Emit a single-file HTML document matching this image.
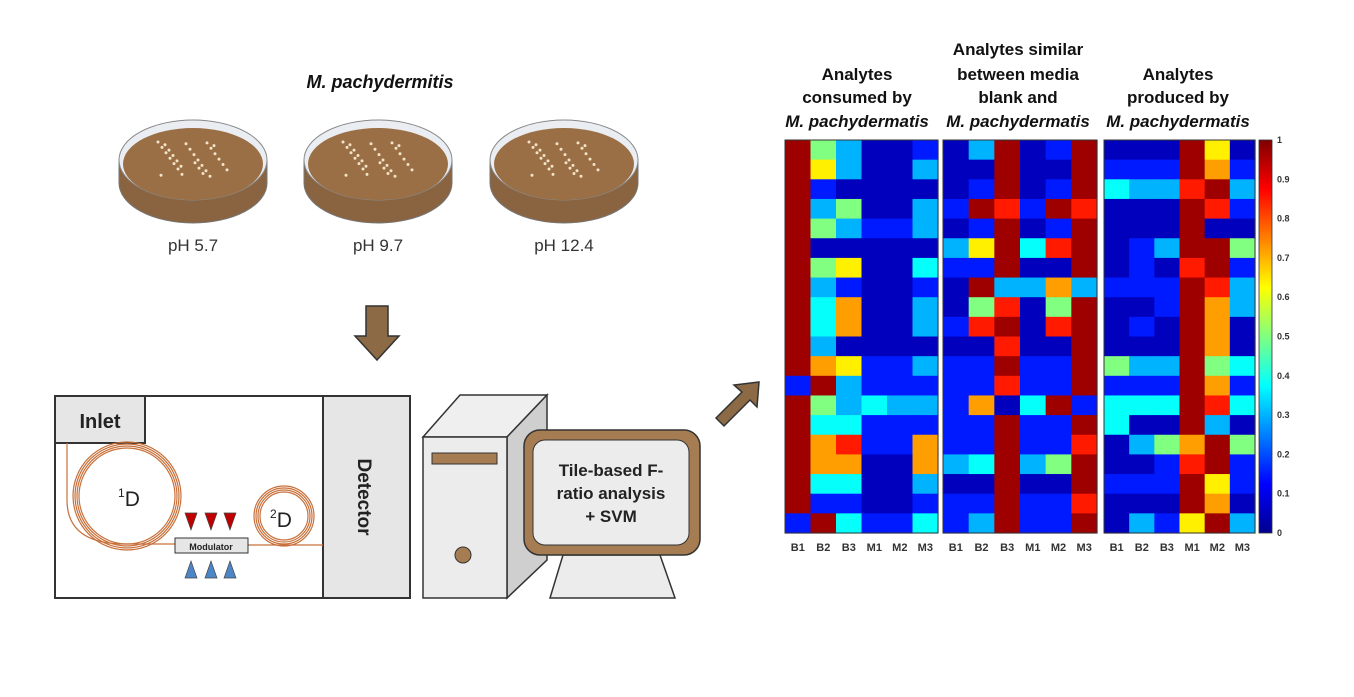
<!DOCTYPE html>
<html><head><meta charset="utf-8"><style>
html,body{margin:0;padding:0;background:#fff;width:1354px;height:697px;overflow:hidden}
svg{display:block;font-family:"Liberation Sans",sans-serif}
</style></head><body>
<svg id="s" width="1354" height="697" viewBox="0 0 1354 697" xmlns="http://www.w3.org/2000/svg">
<defs>
<linearGradient id="jet" x1="0" y1="1" x2="0" y2="0">
<stop offset="0" stop-color="#00008f"/><stop offset="0.125" stop-color="#0000ff"/>
<stop offset="0.375" stop-color="#00ffff"/><stop offset="0.625" stop-color="#ffff00"/>
<stop offset="0.875" stop-color="#ff0000"/><stop offset="1" stop-color="#800000"/>
</linearGradient>
</defs>
<text x="380" y="88" font-size="18" font-weight="bold" font-style="italic" text-anchor="middle" fill="#111">M. pachydermitis</text>
<g id="dishes"></g>
<text x="193" y="251" font-size="17" text-anchor="middle" fill="#333">pH 5.7</text>
<text x="378" y="251" font-size="17" text-anchor="middle" fill="#333">pH 9.7</text>
<text x="564" y="251" font-size="17" text-anchor="middle" fill="#333">pH 12.4</text>
<polygon points="366,306 388,306 388,336 399,336 377,360 355,336 366,336" fill="#8b6a45" stroke="#333" stroke-width="1.5"/>
<polygon points="716,418 742,392 734,385 759,382 757,407 750,400 724,426" fill="#8b6a45" stroke="#333" stroke-width="1.5"/>
<rect x="55" y="396" width="355" height="202" fill="#fff" stroke="#333" stroke-width="2"/>
<rect x="323" y="396" width="87" height="202" fill="#e6e6e6" stroke="#333" stroke-width="2"/>
<text transform="translate(358,497) rotate(90)" font-size="19" font-weight="bold" text-anchor="middle" fill="#222">Detector</text>
<rect x="55" y="396" width="90" height="47" fill="#e6e6e6" stroke="#333" stroke-width="2"/>
<text x="100" y="428" font-size="20" font-weight="bold" text-anchor="middle" fill="#222">Inlet</text>
<g fill="none" stroke="#c8703a" stroke-width="1.2">
<path d="M67,443 L67,500 Q67,544 125,544 L175,544"/>
<circle cx="127" cy="496" r="48"/><circle cx="127" cy="496" r="50"/><circle cx="127" cy="496" r="52"/><circle cx="127" cy="496" r="54"/>
<circle cx="284" cy="516" r="24"/><circle cx="284" cy="516" r="26"/><circle cx="284" cy="516" r="28"/><circle cx="284" cy="516" r="30"/>
<path d="M248,545 L323,545"/>
</g>
<text x="118" y="506" font-size="21" fill="#222"><tspan font-size="12" dy="-9">1</tspan><tspan dy="9">D</tspan></text>
<text x="270" y="527" font-size="21" fill="#222"><tspan font-size="12" dy="-9">2</tspan><tspan dy="9">D</tspan></text>
<rect x="175" y="538" width="73" height="15" fill="#e6e6e6" stroke="#333" stroke-width="1"/>
<text x="211" y="550" font-size="9" font-weight="bold" text-anchor="middle" fill="#222">Modulator</text>
<g fill="#c00000" stroke="#444" stroke-width="0.7">
<polygon points="185,513 197,513 191,530"/><polygon points="205,513 217,513 211,530"/><polygon points="224,513 236,513 230,530"/></g>
<g fill="#4d86c6" stroke="#444" stroke-width="0.7">
<polygon points="185,578 197,578 191,561"/><polygon points="205,578 217,578 211,561"/><polygon points="224,578 236,578 230,561"/></g>
<polygon points="423,437 460,395 547,395 507,437" fill="#efefef" stroke="#333" stroke-width="1.5"/>
<polygon points="507,437 547,395 547,560 507,598" fill="#cfcfcf" stroke="#333" stroke-width="1.5"/>
<rect x="423" y="437" width="84" height="161" fill="#ececec" stroke="#333" stroke-width="1.5"/>
<rect x="432" y="453" width="65" height="11" fill="#a67c52" stroke="#333" stroke-width="1"/>
<circle cx="463" cy="555" r="8" fill="#a67c52" stroke="#333" stroke-width="1"/>
<polygon points="563,555 660,555 675,598 550,598" fill="#ececec" stroke="#333" stroke-width="1.5"/>
<rect x="524" y="430" width="176" height="125" rx="16" fill="#a67c52" stroke="#333" stroke-width="1.5"/>
<rect x="533" y="440" width="156" height="105" rx="12" fill="#ececec" stroke="#333" stroke-width="1"/>
<text font-size="17" font-weight="bold" text-anchor="middle" fill="#222"><tspan x="611" y="476">Tile-based F-</tspan><tspan x="611" y="499">ratio analysis</tspan><tspan x="611" y="522">+ SVM</tspan></text>
<g font-size="17" font-weight="bold" text-anchor="middle" fill="#111">
<text x="857" y="80">Analytes</text><text x="857" y="103">consumed by</text>
<text x="857" y="127" font-style="italic">M. pachydermatis</text>
<text x="1018" y="55">Analytes similar</text><text x="1018" y="80">between media</text><text x="1018" y="103">blank and</text>
<text x="1018" y="127" font-style="italic">M. pachydermatis</text>
<text x="1178" y="80">Analytes</text><text x="1178" y="103">produced by</text>
<text x="1178" y="127" font-style="italic">M. pachydermatis</text>
</g>
<g id="hm"></g>
<rect x="1259" y="140" width="13" height="393" fill="url(#jet)" stroke="#333" stroke-width="0.8"/>
<g id="cb" font-size="9" font-weight="bold" fill="#333"></g>
</svg>
<script>
var NS="http://www.w3.org/2000/svg",s=document.getElementById('s');
function el(t,a,p){var e=document.createElementNS(NS,t);for(var k in a)e.setAttribute(k,a[k]);(p||s).appendChild(e);return e;}
var dg=document.getElementById('dishes');
[193,378,564].forEach(function(cx){
 el('path',{d:'M'+(cx-74)+',160 L'+(cx-74)+',183 A74,40 0 0 0 '+(cx+74)+',183 L'+(cx+74)+',160 Z',fill:'#8a6440',stroke:'#777','stroke-width':1},dg);
 el('ellipse',{cx:cx,cy:160,rx:74,ry:40,fill:'#eaeef2',stroke:'#888','stroke-width':1},dg);
 el('ellipse',{cx:cx,cy:164,rx:70,ry:36,fill:'#9a6f45'},dg);
 for(var i=0;i<30;i++){var a=(i*37)%70-35,b=(i*23)%40-20;el('circle',{cx:cx+a,cy:160+b*0.9,r:1.5,fill:'#f3e3c8'},dg);}
});
function jet(v){function c(x){return Math.max(0,Math.min(1,x));}
 var r=c(1.5-Math.abs(4*v-3)),g=c(1.5-Math.abs(4*v-2)),b=c(1.5-Math.abs(4*v-1));
 return 'rgb('+Math.round(r*255)+','+Math.round(g*255)+','+Math.round(b*255)+')';}
var M={D:0.97,d:0.06,b:0.15,l:0.3,c:0.38,g:0.5,y:0.64,o:0.72,r:0.85};
var P1=["Dglddb","Dylddl","Dbdddd","Dlgddl","Dglbbl","Dddddd","Dgyddc","Dlbddb","Dcoddl","Dcoddl","Dldddd","Doybbl","bDlbbb","Dglcll","Dccbbb","Dorbbo","Dooddo","Dccddl","Dbbddb","bDcbbc"];
var P2=["dlDdbD","ddDddD","dbDdbD","bDrbDr","dbDdbD","lyDcrD","bbDddD","dDllol","dgrdgD","brDdrD","ddrddD","bbDbbD","bbrbbD","bodcDb","bbDbbD","bbDbbr","lcDlgD","ddDddD","bbDbbr","blDbbD"];
var P3=["dddDyd","bbbDob","cllrDl","dddDrb","dddDdd","dblDDg","dbdrDb","bbbDrl","ddbDol","dbdDod","dddDod","gllDgc","bbbDob","cccDrc","cddDld","dlgoDg","ddbrDb","bbbDyb","dddDod","dlbyDl"];
var H=document.getElementById('hm');
function panel(x0,x1,data){var y0=140,y1=533,rh=(y1-y0)/20,cw=(x1-x0)/6;
 data.forEach(function(row,i){for(var j=0;j<6;j++){
  el('rect',{x:(x0+j*cw).toFixed(2),y:(y0+i*rh).toFixed(2),width:(cw+0.6).toFixed(2),height:(rh+0.6).toFixed(2),fill:jet(M[row[j]])},H);}});
 el('rect',{x:x0,y:y0,width:x1-x0,height:y1-y0,fill:'none',stroke:'#333','stroke-width':1},H);
 ['B1','B2','B3','M1','M2','M3'].forEach(function(t,j){var tx=el('text',{x:(x0+(j+0.5)*cw).toFixed(1),y:551,'font-size':11,'font-weight':'bold','text-anchor':'middle',fill:'#333'},H);tx.textContent=t;});
}
panel(785,938,P1);panel(943,1097,P2);panel(1104,1255,P3);
var cb=document.getElementById('cb');
['0','0.1','0.2','0.3','0.4','0.5','0.6','0.7','0.8','0.9','1'].forEach(function(t,i){var tx=el('text',{x:1277,y:(533-i*39.3+3).toFixed(1)},cb);tx.textContent=t;});
</script>
</body></html>
